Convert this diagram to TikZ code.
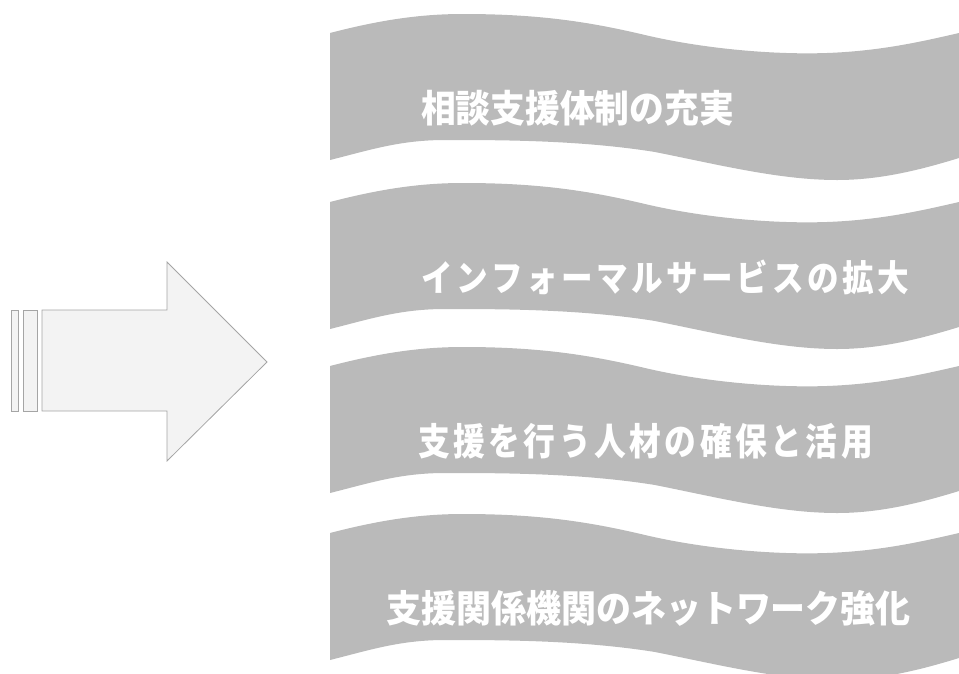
\documentclass[tikz,border=0pt]{standalone}
\usepackage{graphicx}
\usepackage{fontspec}
\newfontfamily\jpn{Noto Sans CJK JP}
\definecolor{bannergray}{RGB}{186,186,186}
\definecolor{arrowfill}{RGB}{243,243,243}
\definecolor{arrowline}{RGB}{165,165,165}
\newdimen\lsp
\def\spc#1{\ifx#1\relax\else#1\kern\lsp\expandafter\spc\fi}
\newcommand\spacedtext[4]{\resizebox*{#1}{#2}{\lsp=#3\relax\spc#4\relax\kern-\lsp}}
\tikzset{
  bannershape/.style={fill=bannergray},
  lbl/.style={text=white, font=\jpn\bfseries\fontsize{36}{36}\selectfont, inner sep=0pt, anchor=center},
  arrowpart/.style={fill=arrowfill, draw=arrowline, line width=0.8pt, line join=miter}
}
\begin{document}
\begin{tikzpicture}[x=1pt,y=-1pt]
\useasboundingbox (0,0) rectangle (959,673);
% wavy banners
\foreach \dy in {0,169,333,500} {
  \fill[bannershape, shift={(0,\dy)}]
    (330,33) .. controls (380,20) and (420,14) .. (463,14)
             .. controls (540,14) and (590,22) .. (645,35)
             .. controls (700,48) and (770,55) .. (827,53)
             .. controls (880,51) and (920,42) .. (959,33)
    -- (959,158)
             .. controls (920,170) and (880,180) .. (837,180)
             .. controls (780,180) and (720,165) .. (655,152)
             .. controls (580,140) and (500,140) .. (445,140)
             .. controls (400,140) and (370,150) .. (330,160)
    -- cycle;
}
% labels
\node[lbl] (t1) at (577.5,108.5) {\spacedtext{313pt}{36pt}{0pt}{相談支援体制の充実}};
\node[lbl] (t2) at (665,277.5) {\spacedtext{488pt}{35pt}{4pt}{インフォーマルサービスの拡大}};
\node[lbl] (t3) at (645.5,441.5) {\spacedtext{455pt}{36pt}{4pt}{支援を行う人材の確保と活用}};
\node[lbl] (t4) at (648.5,608.5) {\spacedtext{525pt}{36pt}{0pt}{支援関係機関のネットワーク強化}};
% big arrow
\draw[arrowpart] (11,310) rectangle (18,411);
\draw[arrowpart] (23,310) rectangle (37,411);
\draw[arrowpart] (42,310) -- (167,310) -- (167,262) -- (267,362) -- (167,461) -- (167,411) -- (42,411) -- cycle;
\end{tikzpicture}
\end{document}
